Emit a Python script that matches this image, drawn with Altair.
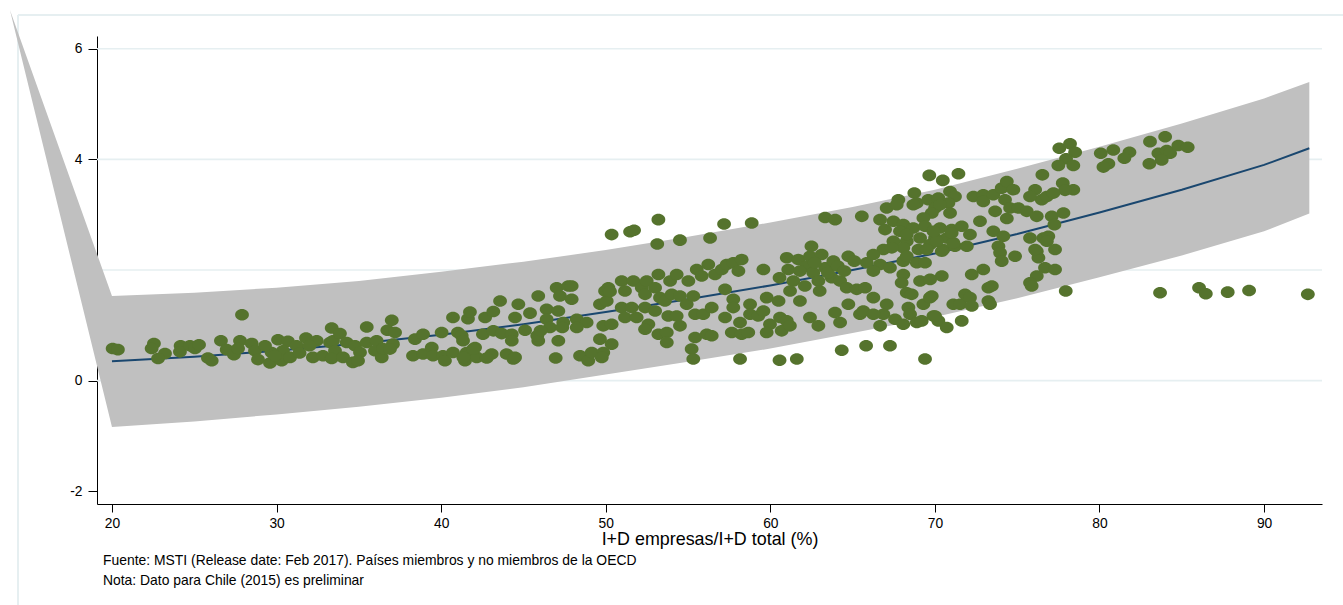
import altair as alt
import pandas as pd

# ---------------- data ----------------
# scatter: x = I+D empresas / I+D total (%), y = indicator
x_r1 = [20.04, 20.36, 22.55, 22.41, 23.22, 22.8, 24.17, 24.13, 24.74, 25.04, 25.29, 25.83, 26.06, 26.62, 27.9,
        26.97, 27.41, 27.78, 27.66, 28.49, 28.69, 28.87, 29.6, 29.7, 30.09, 30.69, 30.39, 30.31, 30.82, 31.22,
        31.79, 32.44, 32.21, 32.82, 33.35, 33.25, 31.4, 32.0, 29.3, 29.9]
y_r1 = [0.58, 0.56, 0.67, 0.58, 0.49, 0.40, 0.63, 0.52, 0.63, 0.58, 0.65, 0.41, 0.36, 0.72, 1.19,
        0.56, 0.47, 0.72, 0.58, 0.67, 0.54, 0.38, 0.32, 0.51, 0.74, 0.71, 0.54, 0.36, 0.42, 0.63,
        0.77, 0.72, 0.42, 0.45, 0.95, 0.69, 0.50, 0.63, 0.63, 0.45]

x_r2 = [33.43, 33.85, 33.55, 33.35, 34.04, 34.26, 34.64, 34.77, 35.07, 34.95, 35.48, 35.48, 36.08, 35.98, 36.39,
        36.47, 37.0, 36.73, 37.2, 37.07, 36.89, 38.29, 38.41, 38.9, 38.9, 39.43, 39.51, 40.03, 40.11, 40.23,
        40.72, 40.72, 41.02, 41.25, 41.33, 41.55, 41.45, 41.63, 41.75, 42.06, 42.16, 42.54, 42.67, 43.17, 43.17,
        43.58, 43.07, 42.77, 43.68, 43.98, 44.29, 44.29, 44.49, 44.39, 44.69, 45.1, 45.4, 45.9, 45.9, 46.41,
        46.41, 46.61, 47.02, 47.12, 47.22, 47.12, 46.96, 47.42, 47.73, 45.84, 46.04, 47.36, 41.35, 41.95, 44.49]
y_r2 = [0.72, 0.85, 0.54, 0.40, 0.42, 0.69, 0.33, 0.63, 0.51, 0.36, 0.97, 0.69, 0.72, 0.54, 0.42,
        0.58, 1.09, 0.91, 0.87, 0.66, 0.57, 0.45, 0.75, 0.84, 0.48, 0.60, 0.45, 0.87, 0.45, 0.36,
        1.14, 0.51, 0.87, 0.81, 0.72, 0.51, 0.36, 1.12, 1.24, 0.60, 0.42, 0.84, 1.14, 0.90, 1.25,
        1.44, 0.48, 0.41, 0.85, 0.48, 0.84, 0.72, 1.14, 0.39, 1.38, 0.91, 1.22, 1.53, 0.72, 1.29,
        1.11, 0.96, 1.68, 1.26, 1.53, 0.72, 0.41, 1.05, 1.71, 0.81, 0.90, 0.96, 0.42, 0.57, 0.42]

x_r3 = [50.36, 51.48, 51.72, 53.2, 53.13, 54.51, 56.34, 57.19, 58.87, 47.93,
        47.93, 48.24, 48.84, 48.24, 48.44, 48.94, 49.15, 49.65, 49.85, 49.76,
        50.36, 49.85, 50.36, 49.65, 50.06, 49.96, 50.16, 50.97, 51.17, 50.97,
        51.17, 51.88, 51.58, 51.68, 52.19, 52.49, 52.39, 52.39, 52.59, 52.39,
        53.2, 53.0, 53.3, 53.0, 53.2, 53.71, 53.71, 53.6, 53.91, 54.31,
        54.01, 53.8, 54.31, 54.51, 54.51, 55.02, 54.92, 55.32, 55.43, 55.43,
        55.22, 55.32, 55.93, 56.14, 56.44, 56.44, 55.53, 56.23, 55.83, 56.64,
        57.05, 57.35, 57.75, 58.26, 58.06, 57.25, 57.75, 57.75, 57.25, 57.66,
        58.26, 58.16, 58.77, 58.77, 58.16, 58.66, 50.26, 59.27]
y_r3 = [2.64, 2.69, 2.72, 2.91, 2.47, 2.54, 2.58, 2.83, 2.85, 1.71,
        1.47, 1.11, 1.05, 0.96, 0.45, 0.36, 0.51, 0.75, 0.51, 0.42,
        0.66, 0.99, 1.02, 1.38, 1.44, 1.62, 1.68, 1.80, 1.62, 1.32,
        1.14, 1.14, 1.32, 1.80, 1.68, 1.80, 1.56, 1.32, 1.02, 0.93,
        1.92, 1.68, 1.50, 1.26, 0.84, 0.87, 0.69, 1.44, 1.80, 1.92,
        1.56, 1.17, 1.17, 0.99, 1.53, 1.80, 1.38, 1.53, 1.20, 0.78,
        0.57, 0.39, 1.20, 0.84, 1.32, 0.81, 2.01, 2.10, 1.89, 1.92,
        2.01, 2.10, 2.13, 2.19, 1.98, 1.65, 1.47, 1.32, 1.14, 0.87,
        0.84, 1.05, 1.38, 1.20, 0.39, 0.87, 1.61, 1.17]

x_r4 = [63.33, 63.94, 65.56, 60.56, 61.61, 64.34, 65.82, 59.58, 60.56, 61.0,
        61.09, 61.40, 61.70, 62.21, 62.41, 63.12, 62.61, 62.92, 63.33, 63.83,
        63.73, 64.24, 64.74, 64.64, 65.25, 65.76, 65.86, 59.58, 59.78, 59.98,
        60.59, 61.0, 60.69, 61.19, 62.41, 62.92, 63.93, 64.24, 64.74, 65.45,
        65.65, 61.8, 62.7, 63.5, 64.1, 62.1, 62.5, 63.0, 64.5, 65.1,
        61.8, 61.2, 60.5, 59.78]
y_r4 = [2.95, 2.91, 2.97, 0.37, 0.39, 0.55, 0.63, 2.01, 1.86, 2.22,
        2.01, 1.80, 2.19, 2.07, 2.25, 2.28, 1.95, 1.80, 2.04, 2.16,
        1.86, 1.80, 2.25, 1.68, 1.65, 1.68, 2.13, 1.26, 1.50, 1.02,
        1.14, 1.08, 0.90, 0.99, 1.14, 0.99, 1.23, 1.05, 1.38, 1.20,
        1.26, 1.98, 2.13, 1.95, 2.07, 1.71, 2.43, 1.62, 1.98, 2.16,
        1.44, 1.62, 1.44, 0.87]

x_r5 = [69.66, 70.48, 71.43, 68.75, 67.78, 67.07, 68.9, 69.6, 70.21, 70.92,
        71.22, 70.82, 70.01, 70.92, 69.81, 69.3, 66.67, 67.48, 68.08, 66.97,
        67.88, 68.69, 69.4, 70.31, 71.02, 71.63, 72.13, 70.72, 70.01, 69.1,
        68.29, 67.48, 66.87, 66.26, 68.08, 69.0, 69.71, 70.51, 71.22, 71.94,
        66.67, 67.27, 68.08, 68.9, 69.4, 66.26, 72.34, 72.94, 73.55, 72.94,
        74.06, 74.37, 74.77, 74.26, 73.66, 74.57, 75.07, 75.58, 74.37, 72.74,
        73.55, 74.16, 73.86, 73.96, 74.06, 74.87, 72.94, 72.24, 73.25, 73.46,
        73.25, 73.35, 68.08, 70.42, 69.1, 69.71, 67.98, 68.29, 68.59, 69.81,
        69.3, 71.12, 71.53, 71.83, 72.13, 72.24, 66.26, 67.07, 66.87, 66.26,
        67.58, 68.08, 68.39, 68.49, 68.9, 69.2, 69.91, 70.21, 70.72, 71.63,
        66.67, 67.27, 69.4,
        67.38, 70.42, 70.11, 71.12, 71.02, 68.29, 67.68, 68.69, 70.31, 69.5,
        68.29, 69.91, 69.7, 70.01]
y_r5 = [3.71, 3.62, 3.74, 3.39, 3.27, 3.12, 3.21, 3.27, 3.30, 3.42,
        3.33, 3.21, 3.12, 3.03, 3.03, 2.94, 2.91, 2.88, 2.82, 2.73,
        2.70, 2.76, 2.79, 2.76, 2.73, 2.79, 2.64, 2.58, 2.58, 2.58,
        2.52, 2.52, 2.37, 2.28, 2.40, 2.37, 2.46, 2.37, 2.43, 2.43,
        2.10, 2.04, 2.16, 2.13, 2.13, 1.98, 3.33, 3.36, 3.36, 3.24,
        3.48, 3.60, 3.45, 3.27, 3.06, 3.12, 3.12, 3.06, 2.93, 2.88,
        2.70, 2.61, 2.43, 2.31, 2.16, 2.25, 2.01, 1.92, 1.68, 1.71,
        1.44, 1.38, 1.92, 1.89, 1.80, 1.83, 1.77, 1.59, 1.56, 1.53,
        1.38, 1.38, 1.38, 1.56, 1.50, 1.35, 1.50, 1.38, 1.20, 1.20,
        1.11, 1.02, 1.32, 1.20, 1.05, 1.08, 1.17, 1.08, 0.96, 1.08,
        0.99, 0.63, 0.39,
        2.40, 2.34, 2.52, 2.49, 2.67, 2.64, 3.18, 3.18, 3.18, 2.37,
        2.25, 2.70, 1.50, 1.17]

x_r6 = [77.56, 78.21, 78.52, 77.97, 77.5, 78.41, 76.53, 80.08, 80.84, 81.82,
        81.51, 80.54, 80.24, 83.07, 83.99, 83.58, 84.09, 84.29, 83.78, 83.03,
        84.79, 85.36, 77.77, 78.41, 77.91, 76.09, 76.49, 76.8, 77.2, 76.19,
        77.1, 77.81, 77.26, 76.59, 76.89, 76.8, 76.19, 76.29, 77.3, 77.95,
        83.68, 86.05, 86.46, 87.79, 89.09, 92.66,
        75.78, 75.78, 76.09, 76.69, 77.3, 76.19, 75.78, 75.88]
y_r6 = [4.20, 4.28, 4.13, 4.01, 3.89, 3.89, 3.72, 4.11, 4.17, 4.13,
        4.02, 3.92, 3.86, 4.32, 4.41, 4.11, 4.16, 4.11, 3.99, 3.92,
        4.25, 4.22, 3.57, 3.45, 3.44, 3.45, 3.27, 3.33, 3.39, 2.97,
        2.97, 3.03, 2.82, 2.58, 2.61, 2.52, 2.34, 2.22, 2.37, 1.62,
        1.59, 1.68, 1.57, 1.60, 1.63, 1.56,
        3.33, 2.58, 2.37, 2.04, 2.01, 1.89, 1.77, 1.71]

# fitted curve and confidence band
band_x = [13.8, 20, 25, 30, 35, 40, 45, 50, 55, 60, 65, 70, 75, 80, 85, 90, 92.75]
band_hi = [6.70, 1.53, 1.59, 1.68, 1.80, 1.97, 2.15, 2.36, 2.60, 2.86, 3.14, 3.45, 3.83, 4.23, 4.65, 5.10, 5.40]
band_lo = [6.70, -0.84, -0.74, -0.61, -0.47, -0.31, -0.12, 0.11, 0.34, 0.58, 0.86, 1.15, 1.49, 1.87, 2.26, 2.70, 3.02]
fit_x = [20, 25, 30, 35, 40, 45, 50, 55, 60, 65, 70, 75, 80, 85, 90, 92.75]
fit_y = [0.35, 0.43, 0.54, 0.67, 0.83, 1.02, 1.24, 1.47, 1.72, 2.00, 2.30, 2.65, 3.04, 3.45, 3.90, 4.20]

x_ticks = [20, 30, 40, 50, 60, 70, 80, 90]
y_ticks = [-2, 0, 2, 4, 6]
grid_vals = [0, 2, 4, 6]

x_title = "I+D empresas/I+D total (%)"
note_1 = "Fuente: MSTI (Release date: Feb 2017). Países miembros y no miembros de la OECD"
note_2 = "Nota: Dato para Chile (2015) es preliminar"

# ---------------- build ----------------
xs_all = x_r1 + x_r2 + x_r3 + x_r4 + x_r5 + x_r6
ys_all = y_r1 + y_r2 + y_r3 + y_r4 + y_r5 + y_r6
assert len(xs_all) == len(ys_all)

pts = pd.DataFrame({"x": xs_all, "y": ys_all})
band = pd.DataFrame({"x": band_x, "hi": band_hi, "lo": band_lo})
fit = pd.DataFrame({"x": fit_x, "y": fit_y})
grid = pd.DataFrame({"g": grid_vals})

FONT = "Liberation Sans"
W, H = 1225, 468

xscale = alt.Scale(domain=[19.09, 93.52], nice=False, zero=False)
yscale = alt.Scale(domain=[-2.23, 6.23], nice=False, zero=False)

xaxis = alt.Axis(values=x_ticks, title=x_title, grid=False, domainColor="#000000", tickColor="#000000",
                 tickSize=8, labelPadding=4, labelFontSize=13.8, labelFont=FONT, labelColor="#000000",
                 titleFont=FONT, titleFontSize=17.9, titleFontWeight="normal", titleColor="#000000",
                 titlePadding=1, labelFlush=False)
yaxis = alt.Axis(values=y_ticks, title=None, grid=False, domainColor="#000000", tickColor="#000000",
                 tickSize=9, labelPadding=6, labelFontSize=13.8, labelFont=FONT, labelColor="#000000",
                 labelFlush=False, labelExpr="'' + datum.value")

def X(field):
    return alt.X(field, type="quantitative", scale=xscale, axis=xaxis)

def Y(field):
    return alt.Y(field, type="quantitative", scale=yscale, axis=yaxis)

grid_layer = alt.Chart(grid).mark_rule(color="#e6eff1", strokeWidth=1.6).encode(y=Y("g"))

band_layer = alt.Chart(band).mark_area(color="#c0c0c0", opacity=1, clip=False).encode(
    x=X("x"), y=Y("hi"), y2="lo")

fit_layer = alt.Chart(fit).mark_line(color="#1a476f", strokeWidth=2).encode(x=X("x"), y=Y("y"))

ellipse = "M-1,0A1,0.84,0,1,1,1,0A1,0.84,0,1,1,-1,0Z"
pts_layer = alt.Chart(pts).mark_point(shape=ellipse, filled=True, size=190, color="#55732d",
                                       opacity=1, strokeWidth=0).encode(x=X("x"), y=Y("y"))

frame_df = pd.DataFrame({"a": [0]})
frame_top = alt.Chart(frame_df).mark_rule(color="#e6eff1", strokeWidth=2).encode(
    x=alt.value(-79), x2=alt.value(W + 21), y=alt.value(-21))
frame_left = alt.Chart(frame_df).mark_rule(color="#e6eff1", strokeWidth=2).encode(
    x=alt.value(-79), y=alt.value(-21), y2=alt.value(H + 101))

n1 = alt.Chart(pd.DataFrame({"t": [note_1]})).mark_text(
    align="left", baseline="middle", font=FONT, fontSize=13.9, color="#000000").encode(
    x=alt.value(6), y=alt.value(525), text="t:N")
n2 = alt.Chart(pd.DataFrame({"t": [note_2]})).mark_text(
    align="left", baseline="middle", font=FONT, fontSize=13.9, color="#000000").encode(
    x=alt.value(6), y=alt.value(545), text="t:N")

chart = alt.layer(frame_top, frame_left, grid_layer, band_layer, fit_layer, pts_layer, n1, n2).properties(
    width=W, height=H,
    padding={"left": 97, "top": 36, "right": 21, "bottom": 101},
    autosize=alt.AutoSizeParams(type="none"),
    background="white",
).configure_view(stroke=None)

chart.save("out.html", embed_options={"renderer": "svg", "actions": False})
